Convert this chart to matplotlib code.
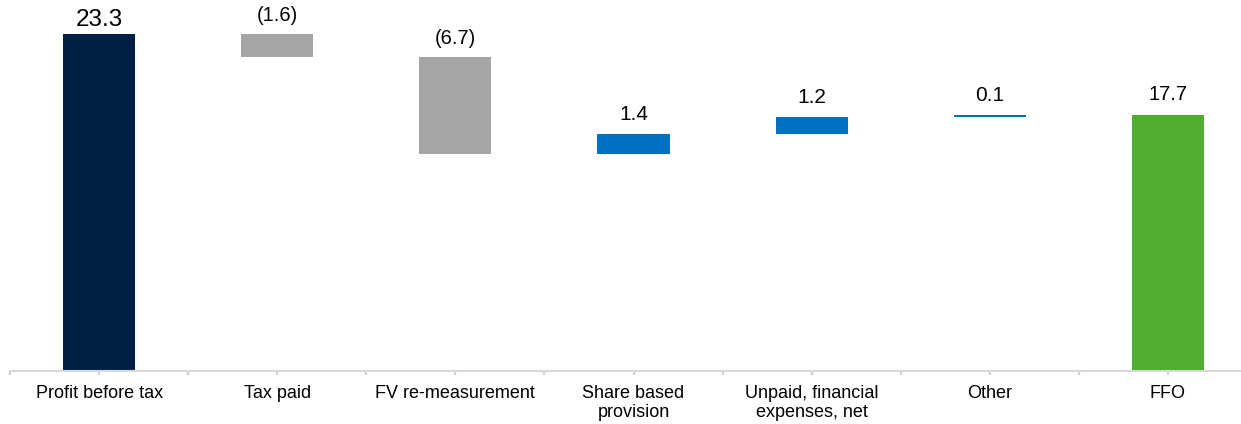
import numpy as np
import matplotlib.pyplot as plt

plt.rcParams['font.family'] = ['Liberation Sans', 'DejaVu Sans']

# bridge from profit before tax to FFO (NIS m)
categories = ['Profit before tax', 'Tax paid', 'FV re-measurement',
              'Share based\nprovision', 'Unpaid, financial\nexpenses, net',
              'Other', 'FFO']
values = [23.3, -1.6, -6.7, 1.4, 1.2, 0.1, 17.7]
labels = ['23.3', '(1.6)', '(6.7)', '1.4', '1.2', '0.1', '17.7']
colors = ['#001f45', '#a5a5a5', '#a5a5a5', '#0070c0', '#0070c0', '#0070c0', '#4fad31']
label_sizes = [17.5, 14.5, 14.5, 15, 15, 15, 14.5]
label_gaps = [2, 7, 7, 7, 7, 7, 8]

# floating bars: totals start at zero, steps start at the running sum
bottoms, heights = [], []
running = 0
for i, v in enumerate(values):
    if i == 0 or i == len(values) - 1:
        bottoms.append(0)
        heights.append(v)
        running = v
    else:
        start = running
        running += v
        bottoms.append(min(start, running))
        heights.append(abs(v))

fig = plt.figure(figsize=(12.41, 4.24), dpi=100)
ax = fig.add_axes([10 / 1241, 0.125, 1247 / 1241, 0.875])

x = np.arange(len(categories))
ax.bar(x, heights, bottom=bottoms, width=0.405, color=colors)

for i in range(len(values)):
    top = bottoms[i] + heights[i]
    ax.annotate(labels[i], (x[i], top), xytext=(0, label_gaps[i]), textcoords='offset points',
                ha='center', va='bottom', fontsize=label_sizes[i], color='#000000')

ax.set_xlim(-0.5, len(categories) - 0.5)
ax.set_ylim(0, 25.67)
ax.set_yticks([])
for side in ['left', 'right', 'top']:
    ax.spines[side].set_visible(False)
ax.spines['bottom'].set_color('#d9d9d9')
ax.spines['bottom'].set_linewidth(1.5)

# labels only on the major ticks; short grey marks every half category
ax.set_xticks(x)
ax.set_xticklabels(categories, fontsize=13)
ax.tick_params(axis='x', which='major', length=0, pad=10)
marks = np.arange(-0.5, len(categories), 0.5)
ax.vlines(marks, -0.011, 0, transform=ax.get_xaxis_transform(), colors='#d0d0d0',
          linewidth=1.5, clip_on=False)

fig.savefig('out.png', dpi=100)
